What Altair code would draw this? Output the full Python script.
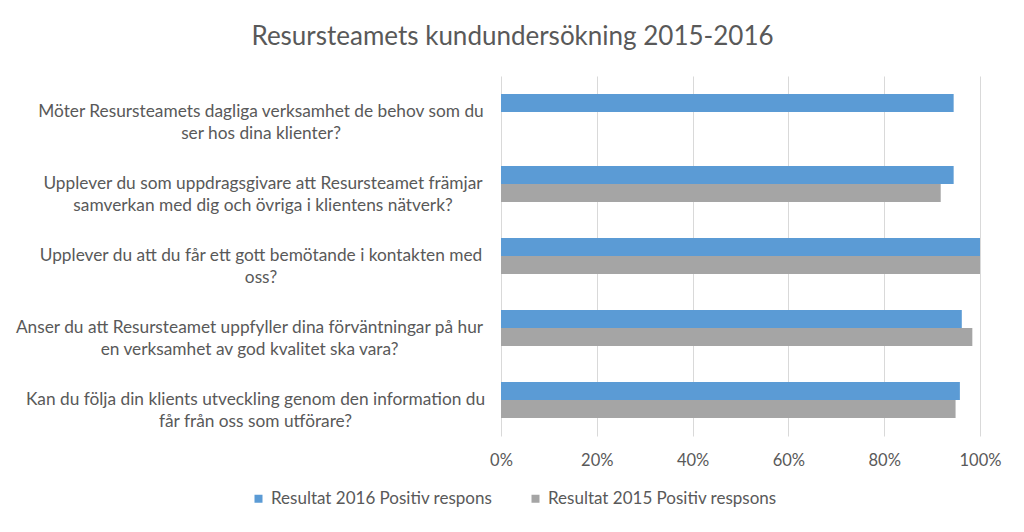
import altair as alt
import pandas as pd

categories = [
    "Möter Resursteamets dagliga verksamhet de behov som du\nser hos dina klienter?",
    "Upplever du som uppdragsgivare att Resursteamet främjar\nsamverkan med dig och övriga i klientens nätverk?",
    "Upplever du att du får ett gott bemötande i kontakten med\noss?",
    "Anser du att Resursteamet uppfyller dina förväntningar på hur\nen verksamhet av god kvalitet ska vara?",
    "Kan du följa din klients utveckling genom den information du\nfår från oss som utförare?",
]
series = ["Resultat 2016 Positiv respons", "Resultat 2015 Positiv respsons"]
values_2016 = [0.945, 0.945, 1.0, 0.962, 0.958]
values_2015 = [None, 0.918, 1.0, 0.984, 0.949]
colors = ["#5B9BD5", "#A5A5A5"]

rows = []
for c, v in zip(categories, values_2016):
    rows.append({"fråga": c, "serie": series[0], "värde": v})
for c, v in zip(categories, values_2015):
    if v is not None:
        rows.append({"fråga": c, "serie": series[1], "värde": v})
df = pd.DataFrame(rows)

FONT = "Lato"
TXT = "#595959"

label_padding = {
    "condition": [
        {"test": "indexof(datum.value, 'Anser') === 0", "value": 252},
        {"test": "indexof(datum.value, 'Kan du') === 0", "value": 246},
        {"test": "indexof(datum.value, 'Upplever du som') === 0", "value": 238.5},
    ],
    "value": 240.5,
}

chart = alt.Chart(df).mark_bar().encode(
    x=alt.X("värde:Q",
            scale=alt.Scale(domain=[0, 1], nice=False),
            axis=alt.Axis(format="%", values=[0, 0.2, 0.4, 0.6, 0.8, 1.0],
                          title=None, domain=False, ticks=False, labelFlush=False,
                          labelPadding=16, labelFontSize=16.5, labelColor=TXT,
                          labelFont=FONT, gridColor="#D9D9D9", gridWidth=1)),
    y=alt.Y("fråga:N", sort=categories,
            scale=alt.Scale(paddingInner=0.5, paddingOuter=0.25),
            axis=alt.Axis(title=None, domain=False, ticks=False, grid=False,
                          labelExpr="split(datum.label, '\\n')",
                          labelAlign="center", labelBaseline="middle",
                          labelPadding=label_padding, labelLimit=0, labelLineHeight=22,
                          labelFontSize=17.3, labelColor=TXT, labelFont=FONT)),
    yOffset=alt.YOffset("serie:N", sort=series,
                        scale=alt.Scale(domain=series, paddingInner=0, paddingOuter=0)),
    color=alt.Color("serie:N",
                    scale=alt.Scale(domain=series, range=colors),
                    legend=alt.Legend(title=None, orient="none", direction="horizontal",
                                      legendX=-251, legendY=414,
                                      symbolType="square", symbolSize=64,
                                      symbolStrokeWidth=0, labelOffset=4,
                                      labelFontSize=17, labelColor=TXT, labelFont=FONT,
                                      columnPadding=34, labelLimit=0)),
).properties(
    width=479,
    height=360,
    title=alt.TitleParams("Resursteamets kundundersökning 2015-2016",
                          anchor="middle", fontSize=26, font=FONT,
                          fontWeight="normal", color=TXT, dx=-228, offset=26),
    autosize=alt.AutoSizeParams(type="none"),
    padding={"left": 493, "top": 68, "right": 36, "bottom": 88},
).configure_view(stroke=None)

chart.save("out.html", embed_options={"renderer": "svg", "actions": False})
